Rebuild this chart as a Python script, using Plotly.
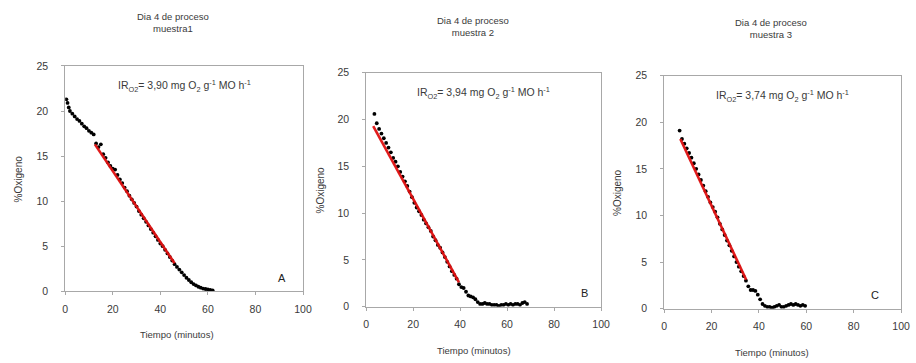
import plotly.graph_objects as go

# ---------------- data ----------------
# Panel A (muestra1)
time_a = [0.5, 1, 1.5, 2, 3, 4, 5, 6, 7, 8, 9, 10, 11, 12, 13,
          14, 15, 16, 17, 18, 19, 20, 21, 22, 23, 24, 25, 26, 27, 28, 29, 30,
          31, 32, 33, 34, 35, 36, 37, 38, 39, 40, 41, 42, 43, 44, 45, 46,
          47, 48, 49, 50, 51, 52, 53, 54, 55, 56, 57, 58, 59, 60, 61, 62]
oxy_a = [21.3, 20.9, 20.4, 20.0, 19.7, 19.4, 19.1, 18.9, 18.6, 18.3, 18.1, 17.8, 17.6, 17.4, 16.4,
         16.0, 16.3, 15.2, 14.8, 14.3, 13.9, 13.6, 13.5, 12.9, 12.4, 12.0, 11.5, 11.1, 10.6, 10.2, 9.8, 9.4,
         8.9, 8.5, 8.1, 7.7, 7.3, 6.9, 6.5, 6.1, 5.7, 5.3, 5.0, 4.6, 4.2, 3.8, 3.4, 3.0,
         2.7, 2.4, 2.1, 1.8, 1.5, 1.25, 1.0, 0.8, 0.65, 0.5, 0.4, 0.3, 0.25, 0.2, 0.15, 0.1]
fit_time_a = [12.5, 46.0]
fit_oxy_a = [16.3, 3.1]

# Panel B (muestra 2)
time_b = [3.5, 4.5, 5.5, 6.5, 7.5, 8.5, 9.5, 10.5, 11.5, 12.5, 13.5, 14.5, 15.5, 16.5, 17.5,
          18.5, 19.5, 20.5, 21.5, 22.5, 23.5, 24.5, 25.5, 26.5, 27.5, 28.5, 29.5, 30.5, 31.5,
          32.5, 33.5, 34.5, 35.5, 36.5, 37.5, 38.5, 39.5, 40.5, 41.5, 42.5, 43.5, 44.5, 45.5,
          46.5, 47.5, 48.5, 49.5, 50.5, 51.5, 52.5, 53.5, 54.5, 55.5, 56.5, 57.5, 58.5, 59.5,
          60.5, 61.5, 62.5, 63.5, 64.5, 65.5, 66.5, 67.5, 68.5]
oxy_b = [20.6, 19.6, 19.0, 18.5, 18.0, 17.5, 17.0, 16.5, 15.9, 15.5, 15.0, 14.4, 13.9, 13.4, 12.9,
         12.3, 11.7, 11.1, 10.6, 10.2, 9.8, 9.3, 8.9, 8.5, 8.1, 7.5, 7.1, 6.6, 6.3,
         5.8, 5.3, 4.8, 4.3, 3.8, 3.4, 3.0, 2.4, 2.1, 2.0, 1.6, 1.2, 1.1, 1.0,
         0.8, 0.5, 0.3, 0.3, 0.4, 0.3, 0.3, 0.2, 0.2, 0.2, 0.1, 0.2, 0.2, 0.3,
         0.2, 0.3, 0.2, 0.3, 0.3, 0.2, 0.4, 0.5, 0.3]
fit_time_b = [3.0, 39.5]
fit_oxy_b = [19.3, 2.6]

# Panel C (muestra 3)
time_c = [6.5, 7.5, 8.5, 9.5, 10.5, 11.5, 12.5, 13.5, 14.5, 15.5, 16.5, 17.5, 18.5, 19.5,
          20.5, 21.5, 22.5, 23.5, 24.5, 25.5, 26.5, 27.5, 28.5, 29.5, 30.5, 31.5, 32.5, 33.5,
          34.5, 35.5, 36.5, 37.5, 38.5, 39.5, 40.5, 41.5, 42.5, 43.5, 44.5, 45.5, 46.5, 47.5,
          48.5, 49.5, 50.5, 51.5, 52.5, 53.5, 54.5, 55.5, 56.5, 57.5, 58.5, 59.5]
oxy_c = [19.1, 18.2, 17.7, 17.2, 16.7, 16.2, 15.6, 15.0, 14.4, 13.8, 13.2, 12.6, 12.0, 11.4,
         10.9, 10.4, 9.8, 9.1, 8.5, 7.9, 7.3, 6.8, 6.2, 5.6, 5.0, 4.5, 4.0, 3.5,
         3.0, 2.4, 2.0, 2.0, 1.9, 1.5, 1.0, 0.5, 0.3, 0.2, 0.2, 0.1, 0.2, 0.3,
         0.4, 0.2, 0.2, 0.3, 0.4, 0.5, 0.4, 0.5, 0.4, 0.3, 0.4, 0.3]
fit_time_c = [6.8, 34.6]
fit_oxy_c = [18.2, 3.1]

panel_titles = ["Dia 4 de proceso<br>muestra1", "Dia 4 de proceso<br>muestra 2",
                "Dia 4 de proceso<br>muestra 3"]
rates = ["3,90", "3,94", "3,74"]
letters = ["A", "B", "C"]
x_ticks = [0, 20, 40, 60, 80, 100]
y_ticks = [0, 5, 10, 15, 20, 25]
x_title = "Tiempo (minutos)"
y_title = "%Oxigeno"

# ---------------- figure ----------------
W, H = 916, 363
FONT = "Liberation Sans"
TXT = "#3a3a3a"
AXC = "#a8a8a8"

# panel pixel boxes: left, right, top, bottom
boxes = [(63, 304, 62, 295), (368, 606, 69, 311), (670, 910, 72, 313)]
title_x = [172, 476, 778]
title_bottom = [31, 35, 37]
xtitle_x = [176, 477, 779]
ytitle_x = [16, 322, 622]
letter_x = [91, 93, 89]

series = [(time_a, oxy_a, fit_time_a, fit_oxy_a),
          (time_b, oxy_b, fit_time_b, fit_oxy_b),
          (time_c, oxy_c, fit_time_c, fit_oxy_c)]

fig = go.Figure()
layout = {}
annotations = []

for i, ((tx, oy, fx, fy), (l, r, t, b)) in enumerate(zip(series, boxes)):
    n = "" if i == 0 else str(i + 1)
    xa, ya = "x" + n, "y" + n
    fig.add_trace(go.Scatter(x=tx, y=oy, mode="markers", xaxis=xa, yaxis=ya,
                             marker=dict(color="black", size=3.8), showlegend=False))
    fig.add_trace(go.Scatter(x=fx, y=fy, mode="lines", xaxis=xa, yaxis=ya,
                             line=dict(color="#e01010", width=2.6), opacity=0.95,
                             showlegend=False))
    common = dict(showline=True, linecolor=AXC, linewidth=1, mirror=True, ticks="outside",
                  ticklen=3, tickcolor=AXC, showgrid=False, zeroline=False,
                  tickfont=dict(family=FONT, size=10.5, color=TXT))
    layout["xaxis" + n] = dict(domain=[l / W, r / W], anchor=ya, range=[0, 100],
                               tickvals=x_ticks, ticklabelstandoff=5, **common)
    layout["yaxis" + n] = dict(domain=[1 - b / H, 1 - t / H], anchor=xa, range=[0, 25],
                               tickvals=y_ticks, ticklabelstandoff=11, **common)
    # panel title
    annotations.append(dict(text=panel_titles[i], xref="paper", yref="paper",
                            x=title_x[i] / W, y=1 - title_bottom[i] / H,
                            xanchor="center", yanchor="bottom",
                            showarrow=False, font=dict(family=FONT, size=9.5, color=TXT)))
    # rate annotation
    annotations.append(dict(text="IR<sub>O2</sub>= " + rates[i] + " mg O<sub>2</sub> g<sup>-1</sup> MO h<sup>-1</sup>",
                            xref=xa, yref=ya, x=50, y=22.8, showarrow=False,
                            font=dict(family=FONT, size=10.5, color=TXT)))
    # letter
    annotations.append(dict(text=letters[i], xref=xa, yref=ya, x=letter_x[i], y=1.5, showarrow=False,
                            font=dict(family=FONT, size=11, color="#222")))
    # axis titles
    annotations.append(dict(text=x_title, xref="paper", yref="paper", x=xtitle_x[i] / W,
                            y=1 - (b + 45) / H, xanchor="center", yanchor="middle", showarrow=False,
                            font=dict(family=FONT, size=9.5, color=TXT)))
    annotations.append(dict(text=y_title, xref="paper", yref="paper", x=ytitle_x[i] / W,
                            y=1 - ((t + b) / 2) / H, xanchor="center", yanchor="middle",
                            showarrow=False, textangle=-90,
                            font=dict(family=FONT, size=10, color=TXT)))

fig.update_layout(width=W, height=H, margin=dict(l=0, r=0, t=0, b=0),
                  paper_bgcolor="white", plot_bgcolor="white",
                  annotations=annotations, **layout)

fig.write_html("out.html")
